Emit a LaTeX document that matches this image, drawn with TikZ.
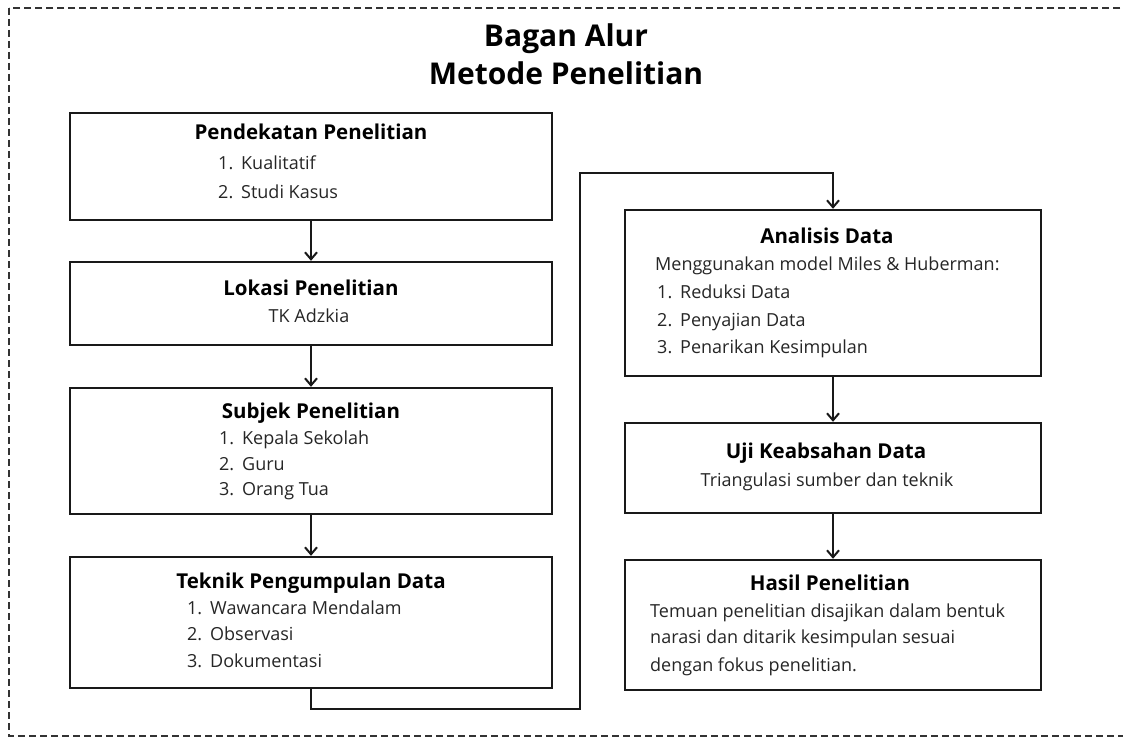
\documentclass[tikz,border=0pt]{standalone}
\usepackage{fontspec}
\setmainfont{Open Sans}
\usetikzlibrary{arrows.meta}
\tikzset{
  box/.style={draw=black!90, line width=2.4pt, fill=white, inner sep=0pt},
  arr/.style={draw=black!90, line width=2pt, -{Straight Barb[length=7pt,width=12pt,line width=2pt]}},
  bigtitle/.style={font=\bfseries\fontsize{30}{35}\selectfont, anchor=base, inner sep=0pt},
  boxtitle/.style={font=\bfseries\fontsize{20.5}{24}\selectfont, anchor=base, inner sep=0pt},
  bodyc/.style={font=\fontsize{18}{21}\selectfont, text=black!85, anchor=base, inner sep=0pt},
  bodyl/.style={font=\fontsize{18}{21}\selectfont, text=black!85, anchor=base west, inner sep=0pt},
  frame/.style={draw=black!80, line width=1.6pt, dash pattern=on 7pt off 4pt}
}
\newcommand{\itm}[2]{\makebox[23pt][l]{#1}#2}
\begin{document}
\begin{tikzpicture}[x=1pt,y=-1pt]
\useasboundingbox (0,0) rectangle (1123,738);
\fill[white] (0,0) rectangle (1123,738);
\begin{scope}
\clip (0,0) rectangle (1123,738);
\draw[frame] (9,8) rectangle (1140,736);
\end{scope}

% titles
\node[bigtitle] (title1) at (566,47) {Bagan Alur};
\node[bigtitle] (title2) at (566,85) {Metode Penelitian};

% left column boxes
\node[box, minimum width=482pt, minimum height=107pt] (b1) at (311,166.5) {};
\node[box, minimum width=482pt, minimum height=83pt] (b2) at (311,303.5) {};
\node[box, minimum width=482pt, minimum height=126pt] (b3) at (311,451) {};
\node[box, minimum width=482pt, minimum height=131pt] (b4) at (311,622.5) {};

% right column boxes
\node[box, minimum width=416pt, minimum height=166pt] (b5) at (833,293) {};
\node[box, minimum width=416pt, minimum height=90pt] (b6) at (833,468) {};
\node[box, minimum width=416pt, minimum height=130pt] (b7) at (833,625) {};

% connectors
\draw[arr] (b1) -- (b2);
\draw[arr] (b2) -- (b3);
\draw[arr] (b3) -- (b4);
\coordinate (c1) at (580,709);
\coordinate (c2) at (580,173);
\draw[arr] (b4.south) -- (b4.south |- c1) -- (c1) -- (c2) -- (c2 -| b5.north) -- (b5.north);
\draw[arr] (b5) -- (b6);
\draw[arr] (b6) -- (b7);

% box 1
\node[boxtitle] (t1) at (311,140) {Pendekatan Penelitian};
\node[bodyl] (t1a) at (218,170) {\itm{1.}{Kualitatif}};
\node[bodyl] (t1b) at (218,198) {\itm{2.}{Studi Kasus}};

% box 2
\node[boxtitle] (t2) at (311,295) {Lokasi Penelitian};
\node[bodyc] (t2a) at (309,322) {TK Adzkia};

% box 3
\node[boxtitle] (t3) at (311,418) {Subjek Penelitian};
\node[bodyl] (t3a) at (219,444) {\itm{1.}{Kepala Sekolah}};
\node[bodyl] (t3b) at (219,470) {\itm{2.}{Guru}};
\node[bodyl] (t3c) at (219,495) {\itm{3.}{Orang Tua}};

% box 4
\node[boxtitle] (t4) at (311,588) {Teknik Pengumpulan Data};
\node[bodyl] (t4a) at (187,614) {\itm{1.}{Wawancara Mendalam}};
\node[bodyl] (t4b) at (187,640) {\itm{2.}{Observasi}};
\node[bodyl] (t4c) at (187,667) {\itm{3.}{Dokumentasi}};

% box 5
\node[boxtitle] (t5) at (827,243) {Analisis Data};
\node[bodyl] (t5s) at (655,270) {Menggunakan model Miles \& Huberman:};
\node[bodyl] (t5a) at (657,298) {\itm{1.}{Reduksi Data}};
\node[bodyl] (t5b) at (657,326) {\itm{2.}{Penyajian Data}};
\node[bodyl] (t5c) at (657,353) {\itm{3.}{Penarikan Kesimpulan}};

% box 6
\node[boxtitle] (t6) at (826,458) {Uji Keabsahan Data};
\node[bodyc] (t6a) at (827,486) {Triangulasi sumber dan teknik};

% box 7
\node[boxtitle] (t7) at (830,590) {Hasil Penelitian};
\node[bodyl] (t7a) at (650,617) {Temuan penelitian disajikan dalam bentuk};
\node[bodyl] (t7b) at (650,643) {narasi dan ditarik kesimpulan sesuai};
\node[bodyl] (t7c) at (650,671) {dengan fokus penelitian.};
\end{tikzpicture}
\end{document}
